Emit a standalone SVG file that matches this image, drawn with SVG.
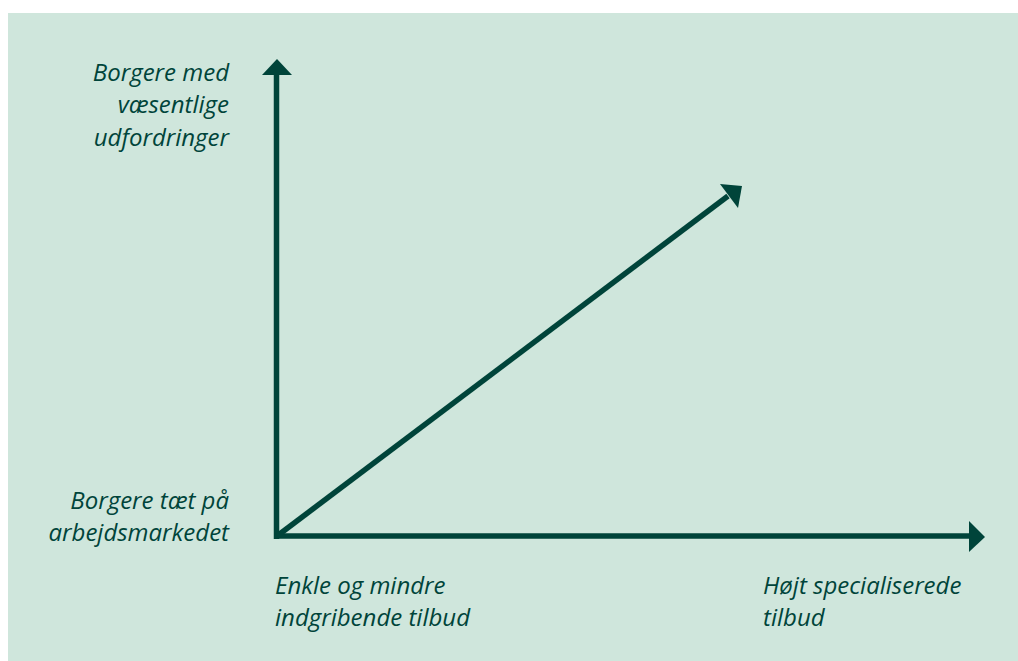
<svg xmlns="http://www.w3.org/2000/svg" width="1018" height="661" viewBox="0 0 1018 661">
<style>
.lbl{font-family:"Open Sans","Noto Sans",sans-serif;font-style:italic;font-size:24px;fill:#00443a}
.ax{stroke:#00443a;stroke-width:5.5;fill:none}
.hd{fill:#00443a}
</style>
<rect x="0" y="0" width="1018" height="661" fill="#ffffff"/>
<rect x="8" y="13" width="1010" height="648" fill="#cfe6dc"/>
<g id="connectors">
<path class="ax" d="M276.5,539 V74"/>
<polygon class="hd" points="262,75 277,59 292,75"/>
<path class="ax" d="M274,536 H970"/>
<polygon class="hd" points="969,521 985,537 969,552"/>
<path class="ax" d="M277,536 L728,196"/>
<polygon class="hd" points="720,184 742,186 738,208"/>
</g>
<g id="label-y-top">
<text class="lbl" x="229" y="81" text-anchor="end">Borgere med</text>
<text class="lbl" x="229" y="113" text-anchor="end">væsentlige</text>
<text class="lbl" x="229" y="146" text-anchor="end">udfordringer</text>
</g>
<g id="label-y-bottom">
<text class="lbl" x="229" y="509" text-anchor="end">Borgere tæt på</text>
<text class="lbl" x="229" y="541" text-anchor="end">arbejdsmarkedet</text>
</g>
<g id="label-x-left">
<text class="lbl" x="275" y="594">Enkle og mindre</text>
<text class="lbl" x="275" y="626">indgribende tilbud</text>
</g>
<g id="label-x-right">
<text class="lbl" x="763" y="594">Højt specialiserede</text>
<text class="lbl" x="763" y="626">tilbud</text>
</g>
</svg>
